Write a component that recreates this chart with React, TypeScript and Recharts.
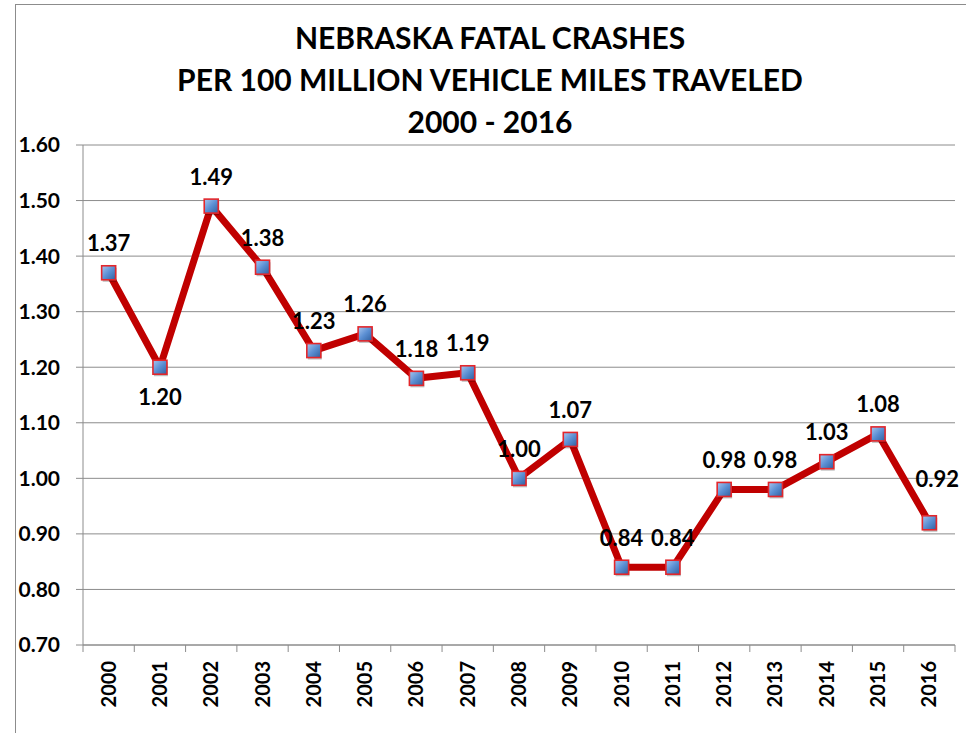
import { CartesianGrid, LabelList, Line, LineChart, XAxis, YAxis } from 'recharts'

const YEARS = [
  '2000', '2001', '2002', '2003', '2004', '2005', '2006', '2007', '2008',
  '2009', '2010', '2011', '2012', '2013', '2014', '2015', '2016',
]
const RATES = [
  1.37, 1.2, 1.49, 1.38, 1.23, 1.26, 1.18, 1.19, 1.0,
  1.07, 0.84, 0.84, 0.98, 0.98, 1.03, 1.08, 0.92,
]
const Y_TICKS = [0.7, 0.8, 0.9, 1.0, 1.1, 1.2, 1.3, 1.4, 1.5, 1.6]
const TITLE = [
  'NEBRASKA FATAL CRASHES',
  'PER 100 MILLION VEHICLE MILES TRAVELED',
  '2000 - 2016',
]

const data = YEARS.map((year, i) => ({ year, rate: RATES[i] }))

const W = 966
const H = 733
const MARGIN = { top: 145, right: 11, bottom: 0, left: 0 }
const Y_AXIS_W = 83
const BAND = (W - Y_AXIS_W - MARGIN.right) / YEARS.length
const FONT = 'Lato, "Open Sans", sans-serif'
const GRID = '#8c8c8c'

function XTick(props: any) {
  const { x, y, payload, index } = props
  const half = BAND / 2
  return (
    <g>
      <line x1={x - half} y1={y} x2={x - half} y2={y + 7} stroke={GRID} />
      {index === YEARS.length - 1 && (
        <line x1={x + half} y1={y} x2={x + half} y2={y + 7} stroke={GRID} />
      )}
      <text
        x={x}
        y={y + 16}
        transform={`rotate(-90 ${x} ${y + 16})`}
        textAnchor="end"
        dy="0.35em"
        fontFamily={FONT}
        fontWeight={700}
        fontSize={20}
        fill="#000"
      >
        {payload.value}
      </text>
    </g>
  )
}

function Marker(props: any) {
  const { cx, cy } = props
  if (cx == null || cy == null) return null
  return (
    <g>
      <rect x={cx - 6} y={cy - 5} width={14} height={14} fill="rgba(0,0,0,0.25)" />
      <rect
        x={cx - 7}
        y={cy - 7}
        width={14}
        height={14}
        fill="url(#markerFill)"
        stroke="#e3262b"
        strokeWidth={1.6}
      />
    </g>
  )
}

function ValueLabel(props: any) {
  const { x, y, value, index } = props
  let dx = 0
  let dy = -30
  if (index === 1) dy = 29
  if (index === YEARS.length - 1) {
    dx = 8
    dy = -44
  }
  return (
    <text
      x={x + dx}
      y={y + dy}
      textAnchor="middle"
      dominantBaseline="central"
      fontFamily={FONT}
      fontWeight={700}
      fontSize={22}
      fill="#000"
    >
      {Number(value).toFixed(2)}
    </text>
  )
}

export default function App() {
  return (
    <div
      style={{
        position: 'absolute',
        left: 0,
        top: 0,
        width: W,
        height: H,
        background: '#fff',
        overflow: 'hidden',
      }}
    >
      <div
        style={{
          position: 'absolute',
          left: 15,
          top: 4,
          width: W,
          height: H,
          borderLeft: '1px solid #8c8c8c',
          borderTop: '1px solid #8c8c8c',
        }}
      />
      <div
        style={{
          position: 'absolute',
          left: 15,
          width: 950,
          top: 16,
          textAlign: 'center',
          fontFamily: FONT,
          fontWeight: 700,
          fontSize: 30,
          lineHeight: '42px',
          color: '#000',
        }}
      >
        {TITLE.map((t) => (
          <div key={t}>{t}</div>
        ))}
      </div>
      <LineChart width={W} height={H} data={data} margin={MARGIN}>
        <defs>
          <linearGradient id="markerFill" x1="0" y1="0" x2="1" y2="1">
            <stop offset="0%" stopColor="#a9c6ee" />
            <stop offset="50%" stopColor="#5b8fd3" />
            <stop offset="100%" stopColor="#2f5f9e" />
          </linearGradient>
        </defs>
        <CartesianGrid vertical={false} stroke={GRID} strokeWidth={1} />
        <XAxis
          dataKey="year"
          height={88}
          interval={0}
          padding={{ left: BAND / 2, right: BAND / 2 }}
          tickLine={false}
          tickSize={0}
          tickMargin={0}
          axisLine={{ stroke: GRID }}
          tick={<XTick />}
        />
        <YAxis
          width={Y_AXIS_W}
          domain={[0.7, 1.6]}
          ticks={Y_TICKS}
          interval={0}
          tickSize={7}
          tickMargin={16}
          tickLine={{ stroke: GRID }}
          axisLine={{ stroke: GRID }}
          tickFormatter={(v: number) => v.toFixed(2)}
          tick={{ fontFamily: FONT, fontWeight: 700, fontSize: 21, fill: '#000' }}
        />
        <Line
          type="linear"
          dataKey="rate"
          stroke="#c00000"
          strokeWidth={7}
          strokeLinejoin="round"
          dot={<Marker />}
          activeDot={false}
          isAnimationActive={false}
        >
          <LabelList dataKey="rate" content={<ValueLabel />} />
        </Line>
      </LineChart>
    </div>
  )
}
